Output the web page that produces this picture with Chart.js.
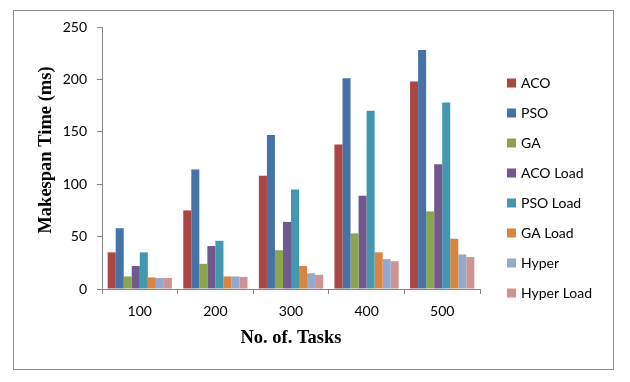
<!DOCTYPE html>
<html>
<head>
<meta charset="utf-8">
<script src="https://cdn.jsdelivr.net/npm/chart.js@4"></script>
<style>
  html, body { margin: 0; padding: 0; background: #fff; }
  #wrap { position: relative; width: 630px; height: 382px; }
  #frame { position: absolute; left: 13px; top: 10px; width: 599px; height: 358px; border: 1px solid #8c8c8c; }
  #makespanChart { position: absolute; left: 0; top: 0; }
</style>
</head>
<body>
<div id="wrap">
  <div id="frame"></div>
  <canvas id="makespanChart" width="630" height="382"></canvas>
</div>
<script>
// --- DONNÉES ---
const taskCounts = ['100', '200', '300', '400', '500'];
const acoValues = [35, 75, 108, 138, 198];
const psoValues = [58, 114, 147, 201, 228];
const gaValues = [12, 24, 37, 53, 74];
const acoLoadValues = [22, 41, 64, 89, 119];
const psoLoadValues = [35, 46, 95, 170, 178];
const gaLoadValues = [11, 12, 22, 35, 48];
const hyperValues = [10.5, 12, 15, 28.5, 33];
const hyperLoadValues = [10.5, 11.5, 13.5, 26.5, 30.5];
const yTicks = [0, 50, 100, 150, 200, 250];

document.addEventListener('DOMContentLoaded', function() {

    const axisColor = '#868686';
    const labelFont = { family: 'Lato', size: 14 };
    const titleFont = { family: 'Liberation Serif', size: 18.5, weight: 'bold' };

    // légende verticale à droite, dessinée comme dans Excel
    const sideLegend = {
        id: 'sideLegend',
        afterDraw(chart, args, opts) {
            const ctx = chart.ctx;
            ctx.save();
            ctx.font = '14px Lato';
            ctx.textBaseline = 'middle';
            ctx.textAlign = 'left';
            chart.data.datasets.forEach((ds, i) => {
                const y = opts.top + i * opts.step;
                ctx.fillStyle = ds.backgroundColor;
                ctx.fillRect(opts.left, y - 4.5, 9, 9);
                ctx.fillStyle = '#000';
                ctx.fillText(ds.label, opts.left + 14, y);
            });
            ctx.restore();
        }
    };

    // titre de l'axe Y, un peu plus haut que le centre de l'axe (comme Excel)
    const yTitle = {
        id: 'yTitle',
        afterDraw(chart, args, opts) {
            const ctx = chart.ctx;
            ctx.save();
            ctx.translate(opts.x, opts.y);
            ctx.rotate(-Math.PI / 2);
            ctx.font = 'bold 18.5px "Liberation Serif"';
            ctx.fillStyle = '#000';
            ctx.textAlign = 'center';
            ctx.textBaseline = 'middle';
            ctx.fillText(opts.text, 0, 0);
            ctx.restore();
        }
    };

    const series = [
        { label: 'ACO', data: acoValues, color: '#AA4643' },
        { label: 'PSO', data: psoValues, color: '#4572A7' },
        { label: 'GA', data: gaValues, color: '#89A54E' },
        { label: 'ACO Load', data: acoLoadValues, color: '#71588F' },
        { label: 'PSO Load', data: psoLoadValues, color: '#4198AF' },
        { label: 'GA Load', data: gaLoadValues, color: '#DB843D' },
        { label: 'Hyper', data: hyperValues, color: '#93A9CF' },
        { label: 'Hyper Load', data: hyperLoadValues, color: '#D19392' }
    ];

    const chartData = {
        labels: taskCounts,
        datasets: series.map(s => ({
            label: s.label,
            data: s.data,
            backgroundColor: s.color,
            borderWidth: 0,
            categoryPercentage: 0.85,
            barPercentage: 1
        }))
    };

    const config = {
        type: 'bar',
        data: chartData,
        plugins: [sideLegend, yTitle],
        options: {
            responsive: false,
            animation: false,
            layout: { padding: { left: 22, right: 150, top: 27, bottom: 20 } },
            plugins: {
                legend: { display: false },
                tooltip: { enabled: false },
                sideLegend: { left: 507, top: 83, step: 30 },
                yTitle: { text: 'Makespan Time (ms)', x: 46, y: 150 }
            },
            scales: {
                x: {
                    grid: { offset: true, drawOnChartArea: false, drawTicks: true, tickLength: 5, color: axisColor },
                    border: { color: axisColor },
                    ticks: { font: labelFont, color: '#000', padding: 9, maxRotation: 0 },
                    title: { display: true, text: 'No. of. Tasks', font: titleFont, color: '#000', padding: { top: 0, bottom: 13 } },
                    afterFit(scale) { scale.height = 73; }
                },
                y: {
                    min: 0,
                    max: 250,
                    afterBuildTicks(scale) { scale.ticks = yTicks.map(v => ({ value: v })); },
                    grid: { drawOnChartArea: false, drawTicks: true, tickLength: 5, color: axisColor },
                    border: { color: axisColor },
                    ticks: { font: labelFont, color: '#000', padding: 10 },
                    afterFit(scale) { scale.width = 80; }
                }
            }
        }
    };

    new Chart(document.getElementById('makespanChart'), config);
});
</script>
</body>
</html>
